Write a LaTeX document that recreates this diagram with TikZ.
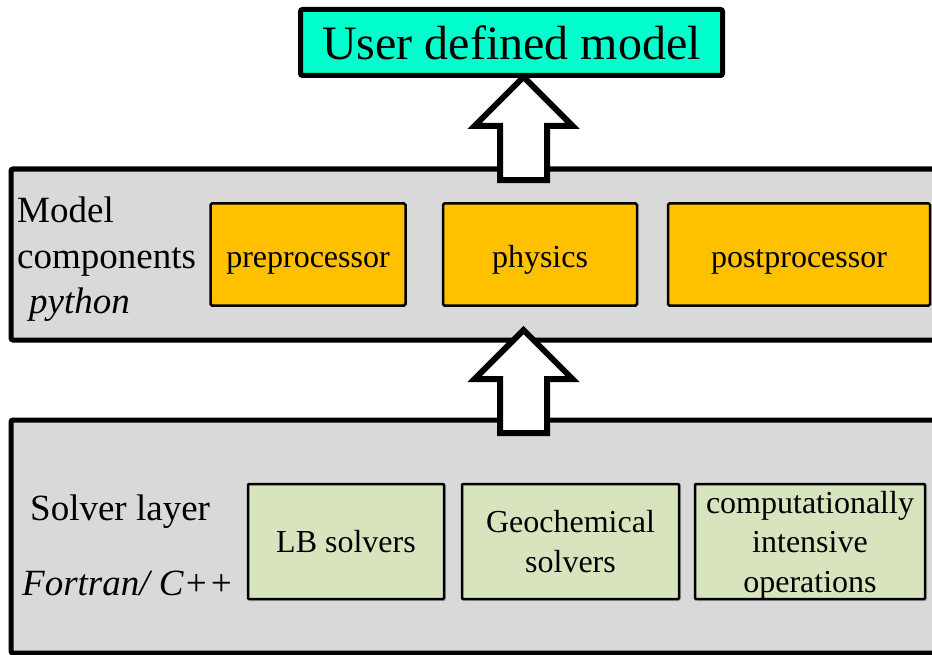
\documentclass[tikz,border=0pt]{standalone}
\usepackage{fontspec}
\setmainfont{Liberation Serif}
\usepackage{xcolor}
\usetikzlibrary{positioning,shadows}

\definecolor{titlecyan}{RGB}{0,255,204}
\definecolor{layergray}{RGB}{217,217,217}
\definecolor{compgold}{RGB}{255,192,0}
\definecolor{solvergreen}{RGB}{215,228,189}

% hollow block arrow, tip at #1
\newcommand{\layerarrow}[1]{%
  \draw[uparrow] (#1) -- ++(-49,49) -- ++(25.5,0) -- ++(0,54) -- ++(47,0) -- ++(0,-54) -- ++(25.5,0) -- cycle;}

\begin{document}
\begin{tikzpicture}[
  x=1bp, y=-1bp,
  layer/.style={draw, line width=5bp, rounded corners=2bp, fill=layergray, anchor=north west, inner sep=0pt, outer sep=0pt},
  topbox/.style={draw, line width=5bp, rounded corners=2bp, fill=titlecyan, minimum width=422bp, minimum height=66bp, inner sep=0pt, outer sep=0pt, font=\fontsize{48bp}{58bp}\selectfont},
  comp/.style={draw, line width=2.5bp, rounded corners=1.5bp, fill=compgold, minimum height=102bp, inner sep=0pt, outer sep=0pt, text height=33bp, text depth=8bp, font=\fontsize{32bp}{39.5bp}\selectfont},
  solver/.style={draw, line width=2.5bp, rounded corners=1bp, fill=solvergreen, minimum height=115bp, inner sep=0pt, outer sep=0pt, align=center, font=\fontsize{32bp}{39.5bp}\selectfont, drop shadow={shadow xshift=2bp, shadow yshift=-2bp, opacity=0.3}},
  layerlabel/.style={inner sep=0pt, align=left, font=\fontsize{37bp}{45.5bp}\selectfont},
  uparrow/.style={draw, line width=6bp, fill=white, line join=miter}
]
  \useasboundingbox (0,0) rectangle (932,655);
  \fill[white] (0,0) rectangle (932,655);
  \clip (0,0) rectangle (932,655);

  % layers
  \node[layer, minimum width=980bp, minimum height=171bp] (modellayer) at (11,169) {};
  \node[layer, minimum width=980bp, minimum height=233bp] (solverlayer) at (11,420) {};

  \node[topbox] (usermodel) at (511.5,42.5) {User defined model};

  % model components
  \node[layerlabel, anchor=west] (modellabel) at (17,259.5) {Model\\components\\\hspace*{12bp}\textit{python}};
  \node[comp, minimum width=195bp] (pre) at (308,254.5) {preprocessor};
  \node[comp, minimum width=194bp, right=37.5bp of pre] (physics) {physics};
  \node[comp, minimum width=262bp, right=31bp of physics] (post) {postprocessor};

  % solvers
  \node[layerlabel, anchor=base west] (solverlabel) at (30,520) {Solver layer};
  \node[layerlabel, anchor=base west] (langlabel) at (22,595) {\textit{Fortran/ C++}};
  \node[solver, minimum width=196bp, text depth=-4bp] (lb) at (346,541.5) {LB solvers};
  \node[solver, minimum width=217bp, right=18bp of lb] (geo) {Geochemical\\solvers};
  \node[solver, minimum width=230bp, right=16bp of geo, text depth=-3bp] (intensive) {computationally\\intensive\\operations};

  \coordinate (uptip) at (523.5,77);
  \coordinate (lowtip) at (523.5,330);
  \layerarrow{uptip}
  \layerarrow{lowtip}
\end{tikzpicture}
\end{document}
